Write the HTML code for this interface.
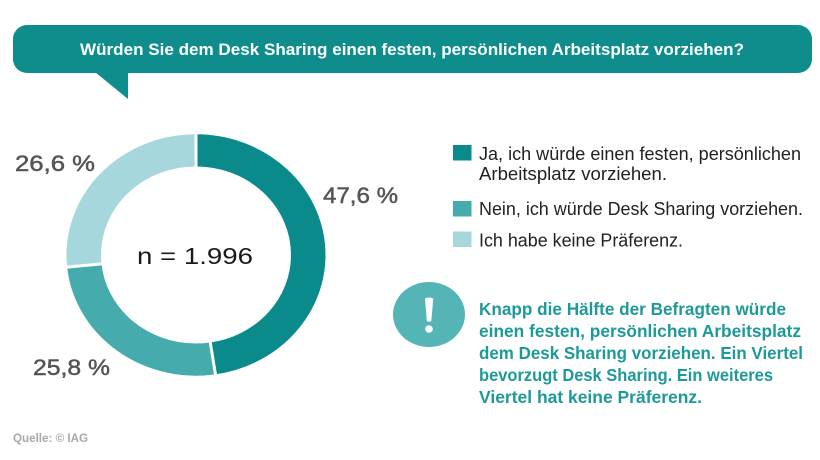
<!DOCTYPE html>
<html><head><meta charset="utf-8"><style>
html,body{margin:0;padding:0;background:#fff;}
svg{display:block;}
text{font-family:"Liberation Sans",sans-serif;}
</style></head><body>
<svg width="820" height="460" viewBox="0 0 820 460" xmlns="http://www.w3.org/2000/svg">
<rect width="820" height="460" fill="#fff"/>
<!-- speech bubble -->
<rect x="13" y="25" width="799" height="48" rx="14" ry="14" fill="#0f8c8c"/>
<polygon points="95,72 128,72 128,99" fill="#0f8c8c"/>
<text x="80" y="55" font-size="16.5" font-weight="bold" fill="#fff" textLength="664" lengthAdjust="spacingAndGlyphs">Würden Sie dem Desk Sharing einen festen, persönlichen Arbeitsplatz vorziehen?</text>

<!-- donut -->
<g transform="translate(196,255) scale(1,0.932)">
  <g transform="rotate(-90)">
    <circle r="112.25" fill="none" stroke="#0b8a8b" stroke-width="34.5" stroke-dasharray="335.7 800" stroke-dashoffset="0"/>
    <circle r="112.25" fill="none" stroke="#46abac" stroke-width="34.5" stroke-dasharray="182 800" stroke-dashoffset="-335.7"/>
    <circle r="112.25" fill="none" stroke="#a6d7dd" stroke-width="34.5" stroke-dasharray="187.6 800" stroke-dashoffset="-517.7"/>
  </g>
  <line x1="0" y1="0" x2="0" y2="-135" stroke="#fff" stroke-width="3"/>
  <line x1="0" y1="0" x2="20.3" y2="133.5" stroke="#fff" stroke-width="3"/>
  <line x1="0" y1="0" x2="-134.3" y2="13.5" stroke="#fff" stroke-width="3.2"/>
</g>
<text x="137" y="264" font-size="23" fill="#1a1a1a" textLength="116" lengthAdjust="spacingAndGlyphs">n = 1.996</text>

<!-- percentage labels -->
<g fill="#555555" stroke="#555555" stroke-width="0.5" font-size="22">
<text x="15" y="171" textLength="80" lengthAdjust="spacingAndGlyphs">26,6 %</text>
<text x="323" y="203" textLength="75" lengthAdjust="spacingAndGlyphs">47,6 %</text>
<text x="33" y="375" textLength="77" lengthAdjust="spacingAndGlyphs">25,8 %</text>
</g>

<!-- legend -->
<rect x="453" y="145" width="18.5" height="15.5" fill="#0b8a8b"/>
<rect x="453" y="201" width="18.5" height="15.5" fill="#46abac"/>
<rect x="453" y="231.5" width="18.5" height="15.5" fill="#a6d7dd"/>
<g fill="#222" font-size="18">
<text x="479" y="160" textLength="322" lengthAdjust="spacingAndGlyphs">Ja, ich würde einen festen, persönlichen</text>
<text x="479" y="180" textLength="188" lengthAdjust="spacingAndGlyphs">Arbeitsplatz vorziehen.</text>
<text x="479" y="215" textLength="324" lengthAdjust="spacingAndGlyphs">Nein, ich würde Desk Sharing vorziehen.</text>
<text x="479" y="246.5" textLength="204" lengthAdjust="spacingAndGlyphs">Ich habe keine Präferenz.</text>
</g>

<!-- exclamation -->
<ellipse cx="429" cy="314.5" rx="36" ry="32.5" fill="#55b4b6"/>
<path d="M425,298.5 Q429,296.5 433.3,298.5 L431.3,321 Q429,322.5 426.8,321 Z" fill="#fff"/>
<circle cx="429" cy="329" r="3.8" fill="#fff"/>

<!-- callout text -->
<g fill="#1e999a" font-size="17.5" font-weight="bold">
<text x="479" y="315" textLength="307" lengthAdjust="spacingAndGlyphs">Knapp die Hälfte der Befragten würde</text>
<text x="479" y="337" textLength="322" lengthAdjust="spacingAndGlyphs">einen festen, persönlichen Arbeitsplatz</text>
<text x="479" y="359" textLength="324" lengthAdjust="spacingAndGlyphs">dem Desk Sharing vorziehen. Ein Viertel</text>
<text x="479" y="381" textLength="294" lengthAdjust="spacingAndGlyphs">bevorzugt Desk Sharing. Ein weiteres</text>
<text x="479" y="403" textLength="223" lengthAdjust="spacingAndGlyphs">Viertel hat keine Präferenz.</text>
</g>

<text x="13" y="442" font-size="11.5" font-weight="bold" fill="#a8a8a8" textLength="75" lengthAdjust="spacingAndGlyphs">Quelle: © IAG</text>
</svg>
</body></html>
